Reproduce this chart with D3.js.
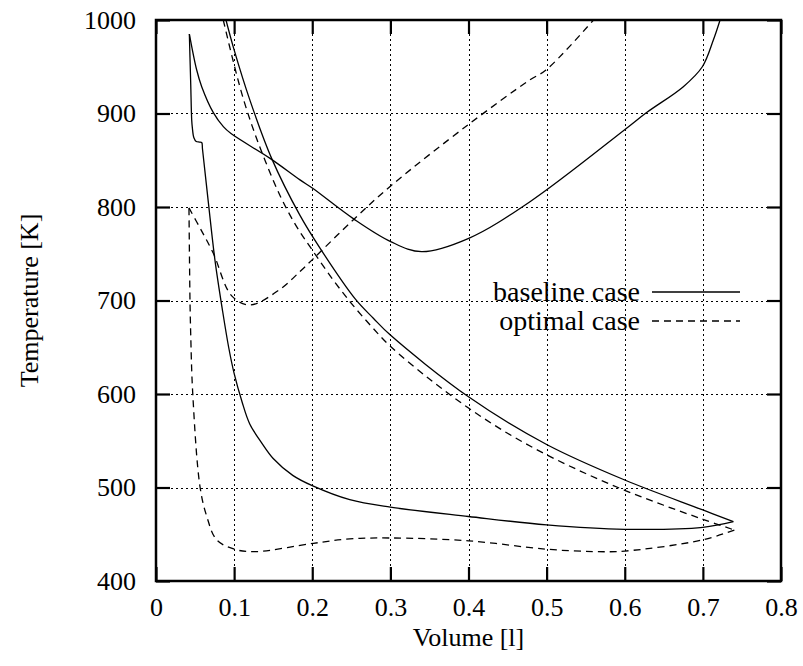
<!DOCTYPE html>
<html>
<head>
<meta charset="utf-8">
<script src="https://cdn.jsdelivr.net/npm/d3@7"></script>
<style>
  html, body { margin: 0; padding: 0; background: #fff; }
  svg { display: block; }
  text { font-family: "Liberation Serif", "Times New Roman", serif; fill: #000; }
</style>
</head>
<body>
<svg id="chart" width="803" height="666"></svg>
<script>
// ---------- data (Volume [l], Temperature [K]) ----------
const xTicks = [0, 0.1, 0.2, 0.3, 0.4, 0.5, 0.6, 0.7, 0.8];
const xTickLabels = ["0", "0.1", "0.2", "0.3", "0.4", "0.5", "0.6", "0.7", "0.8"];
const yTicks = [400, 500, 600, 700, 800, 900, 1000];
const yTickLabels = ["400", "500", "600", "700", "800", "900", "1000"];
const seriesNames = ["baseline case", "optimal case"];

// baseline case (solid)
const baselineUpper = [
  [0.0896, 1000], [0.10, 968], [0.1203, 914], [0.148, 852], [0.1843, 791],
  [0.2099, 756], [0.2547, 702], [0.2782, 681], [0.30, 663], [0.40, 597],
  [0.50, 546], [0.60, 508], [0.70, 476], [0.739, 463.4]
];
const baselineLower = [
  [0.739, 463.4], [0.70, 457.4], [0.60, 455.3], [0.50, 460], [0.40, 469],
  [0.30, 479], [0.248, 487], [0.20, 502], [0.175, 513], [0.15, 531],
  [0.135, 548], [0.12, 568], [0.11, 592], [0.10, 622], [0.093, 650],
  [0.085, 690], [0.0755, 743], [0.067, 805], [0.0595, 862], [0.0585, 869],
  [0.0555, 869.5], [0.0515, 870], [0.0485, 874], [0.0465, 885], [0.0457, 893],
  [0.0445, 930], [0.0435, 960], [0.0427, 985]
];
const baselineRight = [
  [0.0427, 985], [0.0521, 946.5], [0.0585, 928.7], [0.0734, 900.9], [0.0862, 885.9],
  [0.0960, 878.5], [0.146, 852], [0.1843, 829], [0.2005, 820], [0.2534, 787],
  [0.3004, 763], [0.34, 752.2], [0.4003, 766.5], [0.4787, 805.7], [0.5995, 882.4],
  [0.628, 901], [0.675, 928.7], [0.6993, 950], [0.7134, 978.6], [0.722, 1000]
];

// optimal case (dashed)
const optimalUpper = [
  [0.0861, 1000], [0.10, 952], [0.1117, 916], [0.125, 882], [0.14, 849],
  [0.16, 810], [0.18, 779], [0.20, 754], [0.225, 724], [0.25, 697],
  [0.275, 673], [0.30, 651], [0.35, 616], [0.40, 585], [0.45, 558],
  [0.50, 535], [0.55, 515], [0.60, 497], [0.65, 481], [0.70, 466], [0.7403, 454.5]
];
const optimalLower = [
  [0.7403, 454.5], [0.70, 444], [0.60, 432], [0.56, 431.5], [0.50, 434],
  [0.40, 443], [0.30, 446], [0.248, 445], [0.2014, 440.3], [0.1267, 431.4],
  [0.1003, 434], [0.0777, 444], [0.065, 469], [0.0563, 501], [0.047, 601],
  [0.0444, 665], [0.0435, 700], [0.0428, 750], [0.0422, 799]
];
const optimalRight = [
  [0.0422, 799], [0.058, 775], [0.0734, 750.5], [0.0969, 705], [0.1203, 695.2],
  [0.1587, 712], [0.1843, 731], [0.2005, 744], [0.2534, 787], [0.3004, 822.5],
  [0.4002, 888.4], [0.4787, 936], [0.4992, 946.5], [0.56, 1000]
];

// ---------- layout ----------
const svg = d3.select("#chart");
const L = 156, R = 781, T = 20, B = 581;
const x = d3.scaleLinear().domain([0, 0.8]).range([L, R]);
const y = d3.scaleLinear().domain([400, 1000]).range([B, T]);
const FS = 26;
const LEGFS = 28;

svg.append("defs").append("clipPath").attr("id", "plotclip")
  .append("rect").attr("x", L).attr("y", T).attr("width", R - L).attr("height", B - T);

// grid
const grid = svg.append("g").attr("stroke", "#000").attr("stroke-width", 1)
  .attr("stroke-dasharray", "2,3").attr("fill", "none");
xTicks.slice(1, -1).forEach(v => {
  grid.append("line").attr("x1", Math.round(x(v)) + 0.5).attr("x2", Math.round(x(v)) + 0.5)
    .attr("y1", B).attr("y2", T);
});
yTicks.slice(1, -1).forEach(v => {
  grid.append("line").attr("y1", Math.round(y(v)) + 0.5).attr("y2", Math.round(y(v)) + 0.5)
    .attr("x1", L).attr("x2", R);
});

// axes (ticks inward, mirrored)
const tickLen = 14;
const axB = d3.axisBottom(x).tickValues(xTicks).tickFormat((d, i) => xTickLabels[i])
  .tickSizeInner(-tickLen).tickSizeOuter(0).tickPadding(17);
const gB = svg.append("g").attr("transform", `translate(0,${B})`).call(axB);
const axT = d3.axisTop(x).tickValues(xTicks).tickFormat("").tickSizeInner(-tickLen).tickSizeOuter(0);
const gT = svg.append("g").attr("transform", `translate(0,${T})`).call(axT);
const axL = d3.axisLeft(y).tickValues(yTicks).tickFormat((d, i) => yTickLabels[i])
  .tickSizeInner(-tickLen).tickSizeOuter(0).tickPadding(20);
const gL = svg.append("g").attr("transform", `translate(${L},0)`).call(axL);
const axR = d3.axisRight(y).tickValues(yTicks).tickFormat("").tickSizeInner(-tickLen).tickSizeOuter(0);
const gR = svg.append("g").attr("transform", `translate(${R},0)`).call(axR);

[gB, gT, gL, gR].forEach(g => {
  g.select(".domain").remove();
  g.selectAll(".tick line").attr("stroke", "#000").attr("stroke-width", 2.2);
  g.selectAll(".tick text").style("font-size", FS + "px")
    .style("font-family", "'Liberation Serif', serif").attr("fill", "#000");
});

// border
svg.append("rect").attr("x", L).attr("y", T).attr("width", R - L).attr("height", B - T)
  .attr("fill", "none").attr("stroke", "#000").attr("stroke-width", 2.5);

// curves
const line = d3.line().x(d => x(d[0])).y(d => y(d[1])).curve(d3.curveCatmullRom.alpha(0.5));
const plot = svg.append("g").attr("clip-path", "url(#plotclip)").attr("fill", "none")
  .attr("stroke", "#000").attr("stroke-width", 1.3);
[baselineUpper, baselineLower, baselineRight].forEach(s => {
  plot.append("path").attr("d", line(s));
});
[optimalUpper, optimalLower, optimalRight].forEach(s => {
  plot.append("path").attr("d", line(s)).attr("stroke-dasharray", "7,5");
});

// legend
const legend = svg.append("g");
[0, 1].forEach(i => {
  const ly = 292 + i * 29;
  legend.append("text").attr("x", 640).attr("y", ly).attr("dy", "0.33em")
    .attr("text-anchor", "end").style("font-size", LEGFS + "px").text(seriesNames[i]);
  legend.append("line").attr("x1", 652).attr("x2", 740).attr("y1", ly).attr("y2", ly)
    .attr("stroke", "#000").attr("stroke-width", 1.3)
    .attr("stroke-dasharray", i === 1 ? "7,5" : null);
});

// axis titles
svg.append("text").attr("x", (L + R) / 2).attr("y", 646).attr("text-anchor", "middle")
  .style("font-size", FS + "px").text("Volume [l]");
svg.append("text").attr("transform", `translate(38,${(T + B) / 2}) rotate(-90)`)
  .attr("text-anchor", "middle").style("font-size", FS + "px").text("Temperature [K]");
</script>
</body>
</html>
